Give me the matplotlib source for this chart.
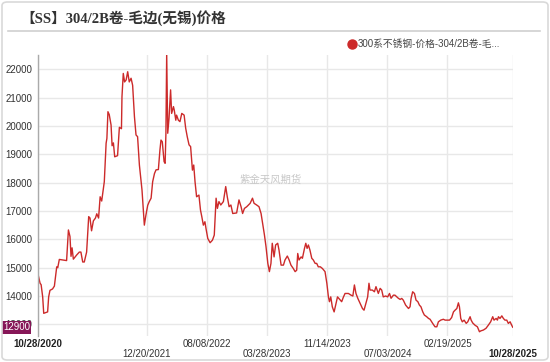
import matplotlib
matplotlib.use("Agg")
import matplotlib.pyplot as plt
import matplotlib.dates as mdates
from matplotlib.patches import FancyBboxPatch
from matplotlib.lines import Line2D
import pandas as pd

title = "【SS】304/2B卷-毛边(无锡)价格"
legend_label = "300系不锈钢-价格-304/2B卷-毛..."
watermark = "紫金天风期货"
last_label = "12900"

dates = [
    "2020-10-28", "2020-11-05", "2020-11-09", "2020-11-15", "2020-11-19", "2020-12-04", "2020-12-08",
    "2020-12-13", "2020-12-23", "2020-12-30", "2021-01-08", "2021-01-12", "2021-01-18", "2021-02-15",
    "2021-02-22", "2021-02-28", "2021-03-04", "2021-03-08", "2021-03-13", "2021-03-26", "2021-04-05",
    "2021-04-11", "2021-04-18", "2021-04-24", "2021-05-03", "2021-05-11", "2021-05-16", "2021-05-22",
    "2021-05-29", "2021-06-06", "2021-06-11", "2021-06-18", "2021-06-24", "2021-06-30", "2021-07-10",
    "2021-07-17", "2021-07-20", "2021-07-24", "2021-07-29", "2021-08-05", "2021-08-09", "2021-08-14",
    "2021-08-19", "2021-08-30", "2021-09-06", "2021-09-14", "2021-09-16", "2021-09-21", "2021-09-26",
    "2021-10-02", "2021-10-08", "2021-10-14", "2021-10-21", "2021-10-27", "2021-11-03", "2021-11-09",
    "2021-11-15", "2021-11-22", "2021-12-02", "2021-12-11", "2021-12-17", "2021-12-24", "2021-12-30",
    "2022-01-06", "2022-01-12", "2022-01-19", "2022-01-25", "2022-02-03", "2022-02-09", "2022-02-13",
    "2022-02-18", "2022-02-25", "2022-03-01", "2022-03-04", "2022-03-07", "2022-03-11", "2022-03-16",
    "2022-03-22", "2022-03-26", "2022-04-02", "2022-04-05", "2022-04-11", "2022-04-14", "2022-04-21",
    "2022-04-27", "2022-05-04", "2022-05-13", "2022-05-19", "2022-05-25", "2022-06-01", "2022-06-07",
    "2022-06-14", "2022-06-19", "2022-06-24", "2022-06-30", "2022-07-09", "2022-07-15", "2022-07-20",
    "2022-07-26", "2022-08-01", "2022-08-05", "2022-08-12", "2022-08-21", "2022-08-30", "2022-09-06",
    "2022-09-13", "2022-09-18", "2022-09-24", "2022-10-01", "2022-10-11", "2022-10-20", "2022-10-26",
    "2022-11-02", "2022-11-09", "2022-11-16", "2022-12-01", "2022-12-10", "2022-12-18", "2022-12-24",
    "2022-12-31", "2023-01-09", "2023-01-22", "2023-01-31", "2023-02-06", "2023-02-16", "2023-02-25",
    "2023-03-05", "2023-03-11", "2023-03-18", "2023-03-24", "2023-03-31", "2023-04-06", "2023-04-12",
    "2023-04-17", "2023-04-24", "2023-04-30", "2023-05-08", "2023-05-13", "2023-05-21", "2023-05-30",
    "2023-06-05", "2023-06-14", "2023-06-21", "2023-06-28", "2023-07-07", "2023-07-14", "2023-07-20",
    "2023-07-24", "2023-07-29", "2023-08-06", "2023-08-11", "2023-08-19", "2023-08-24", "2023-08-29",
    "2023-09-03", "2023-09-09", "2023-09-16", "2023-09-22", "2023-09-29", "2023-10-05", "2023-10-11",
    "2023-10-19", "2023-10-27", "2023-11-06", "2023-11-13", "2023-11-19", "2023-11-23", "2023-11-28",
    "2023-12-04", "2023-12-11", "2023-12-17", "2023-12-24", "2024-01-03", "2024-01-09", "2024-01-16",
    "2024-01-22", "2024-02-04", "2024-02-14", "2024-02-21", "2024-02-27", "2024-03-04", "2024-03-11",
    "2024-03-20", "2024-03-29", "2024-04-04", "2024-04-11", "2024-04-18", "2024-04-23", "2024-04-27",
    "2024-05-06", "2024-05-14", "2024-05-20", "2024-05-29", "2024-06-05", "2024-06-11", "2024-06-17",
    "2024-06-26", "2024-07-04", "2024-07-11", "2024-07-17", "2024-07-26", "2024-08-01", "2024-08-08",
    "2024-08-14", "2024-08-21", "2024-08-27", "2024-09-02", "2024-09-11", "2024-09-22", "2024-09-28",
    "2024-10-02", "2024-10-08", "2024-10-15", "2024-10-21", "2024-10-28", "2024-11-03", "2024-11-09",
    "2024-11-16", "2024-11-22", "2024-12-01", "2024-12-08", "2024-12-14", "2024-12-24", "2025-01-02",
    "2025-01-09", "2025-01-15", "2025-01-24", "2025-02-03", "2025-02-10", "2025-02-19", "2025-02-27",
    "2025-03-07", "2025-03-14", "2025-03-20", "2025-03-27", "2025-04-02", "2025-04-06", "2025-04-11",
    "2025-04-17", "2025-04-24", "2025-05-02", "2025-05-08", "2025-05-17", "2025-05-21", "2025-05-27",
    "2025-06-05", "2025-06-14", "2025-06-22", "2025-06-27", "2025-07-07", "2025-07-17", "2025-07-26",
    "2025-08-04", "2025-08-12", "2025-08-17", "2025-08-25", "2025-08-30", "2025-09-03", "2025-09-09",
    "2025-09-16", "2025-09-22", "2025-09-28", "2025-10-05", "2025-10-11", "2025-10-18", "2025-10-24",
    "2025-10-28",
]

prices = [
    14770, 14450, 14400, 13970, 13390, 13440, 13970,
    14200, 14250, 14350, 15030, 15000, 15290, 15250,
    16330, 16100, 15400, 15700, 15300, 15450, 15550,
    15550, 15200, 15200, 15550, 16800, 16750, 16300,
    16650, 16750, 16900, 16750, 17500, 17350, 18030,
    19390, 19560, 20500, 20400, 20030, 19300, 19400,
    18910, 18950, 19950, 19900, 21030, 21850, 21550,
    21620, 21910, 21550, 21680, 21430, 20320, 19680,
    19620, 18620, 17740, 16500, 16850, 17200, 17330,
    17450, 18030, 18320, 18450, 18460, 19150, 19500,
    19440, 18740, 18680, 19740, 22550, 19740, 20270,
    21270, 20440, 20680, 20560, 20200, 20380, 20200,
    20150, 20440, 20380, 19920, 19620, 19330, 19270,
    18440, 18620, 18030, 17500, 17560, 17030, 16800,
    16500, 16620, 16390, 16030, 15880, 15970, 16150,
    17450, 17090, 17330, 17210, 17330, 17860, 17500,
    17150, 17210, 16910, 16930, 17390, 17150, 16910,
    17090, 17150, 17270, 17450, 17270, 17210, 17150,
    16910, 16560, 16150, 15740, 15150, 14860, 15150,
    15860, 15380, 15800, 15860, 15620, 15090, 15090,
    15270, 15410, 15270, 15090, 14970, 14860, 14910,
    15500, 15270, 15380, 15330, 15680, 15860, 15680,
    15800, 15620, 15330, 15270, 15150, 15150, 15030,
    15030, 14970, 14860, 14450, 13970, 13800, 13970,
    13620, 13440, 13680, 13970, 13860, 13800, 13970,
    14090, 14090, 14030, 14000, 14390, 14090, 13920,
    13740, 13560, 13500, 13740, 13970, 14450, 14210,
    14210, 14150, 14330, 14090, 14270, 14210, 13970,
    14000, 13970, 14090, 13920, 14030, 14030, 13970,
    13920, 13880, 13915, 13855, 13680, 13560, 13620,
    13915, 14150, 14090, 13855, 13800, 13680, 13620,
    13440, 13330, 13270, 13210, 13180, 13035, 12915,
    12915, 13090, 13150, 13180, 13150, 13150, 13150,
    13240, 13440, 13500, 13560, 13760, 13620, 13210,
    13090, 13150, 13035, 13090, 13270, 13150, 13050,
    12970, 12915, 12740, 12770, 12800, 12860, 12970,
    13090, 13270, 13150, 13210, 13150, 13270, 13210,
    13300, 13210, 13150, 13150, 13035, 13090, 12970,
    12900,
]

tick_dates = ["2020-10-28", "2021-12-20", "2022-08-08", "2023-03-28",
              "2023-11-14", "2024-07-03", "2025-02-19", "2025-10-28"]
tick_labels = ["10/28/2020", "12/20/2021", "08/08/2022", "03/28/2023",
               "11/14/2023", "07/03/2024", "02/19/2025", "10/28/2025"]
y_ticks = [13000, 14000, 15000, 16000, 17000, 18000, 19000, 20000, 21000, 22000]

sans = ["Liberation Sans", "Noto Sans CJK SC"]
plt.rcParams["font.family"] = sans

W, H = 550, 362
fig = plt.figure(figsize=(W / 100, H / 100), dpi=100)
fig.patch.set_facecolor("white")

# outer border
fig.add_artist(FancyBboxPatch((2 / W, 2 / H), 1 - 4 / W, 1 - 4 / H,
                              boxstyle="round,pad=0,rounding_size=0.01",
                              transform=fig.transFigure, facecolor="none",
                              edgecolor="#d9d9d9", linewidth=1.2))
# title
fig.text(20 / W, 1 - 18 / H, title, fontsize=10.5, fontweight="bold",
         family=["Liberation Serif", "Noto Sans CJK SC"], color="#333333",
         va="center", ha="left")
# separator
fig.add_artist(Line2D([8 / W, 540 / W], [1 - 31 / H, 1 - 31 / H],
                      transform=fig.transFigure, color="#d0d0d0", linewidth=1.2))
# legend
fig.add_artist(Line2D([352 / W], [1 - 44 / H], marker="o", markersize=6.5,
                      color="#cc2a2a", transform=fig.transFigure, linestyle="none"))
fig.text(358 / W, 1 - 44 / H, legend_label, fontsize=7, color="#444444",
         va="center", ha="left", family=sans)

ax = fig.add_axes([38 / W, 1 - 336 / H, (513 - 38) / W, (336 - 55) / H])
x = pd.to_datetime(dates)
ax.plot(x, prices, color="#cc2a2a", linewidth=1.0, solid_joinstyle="round")

ax.set_xlim(pd.Timestamp("2020-10-28"), pd.Timestamp("2025-10-29"))
ax.set_ylim(12590, 22500)

ax.set_yticks(y_ticks)
ax.set_yticklabels([str(v) for v in y_ticks])
ax.set_xticks(pd.to_datetime(tick_dates))
ax.set_xticklabels([])

ax.grid(True, color="#e8e8e8", linewidth=1.0)
ax.set_axisbelow(True)
for s in ["top", "right", "bottom"]:
    ax.spines[s].set_visible(False)
ax.spines["left"].set_color("#aaaaaa")
ax.spines["left"].set_linewidth(1.0)
ax.tick_params(axis="both", length=0)
ax.tick_params(axis="y", labelsize=7, labelcolor="#333333", pad=4)

# two-row date labels
xt = ax.get_xaxis_transform()
for i, (d, lab) in enumerate(zip(tick_dates, tick_labels)):
    row = 0 if i % 2 == 0 else 1
    ypos = -8 / 281 - row * 10 / 281
    bold = i in (0, len(tick_labels) - 1)
    ha = "center"
    ax.text(pd.Timestamp(d), ypos, lab, transform=xt, ha=ha, va="center",
            fontsize=7, color="#222222" if bold else "#333333",
            fontweight="bold" if bold else "normal", clip_on=False)

# watermark
ax.text(0.49, 0.555, watermark, transform=ax.transAxes, fontsize=7.5,
        color="#c8c8c8", ha="center", va="center", family=["Noto Sans CJK SC"])

# last value badge
ax.text(-8 / 475, prices[-1], last_label, transform=ax.get_yaxis_transform(),
        ha="right", va="center", fontsize=7, color="white", clip_on=False,
        bbox=dict(boxstyle="square,pad=0.15", facecolor="#861657", edgecolor="none"),
        zorder=5)

fig.savefig("out.png", dpi=100)
